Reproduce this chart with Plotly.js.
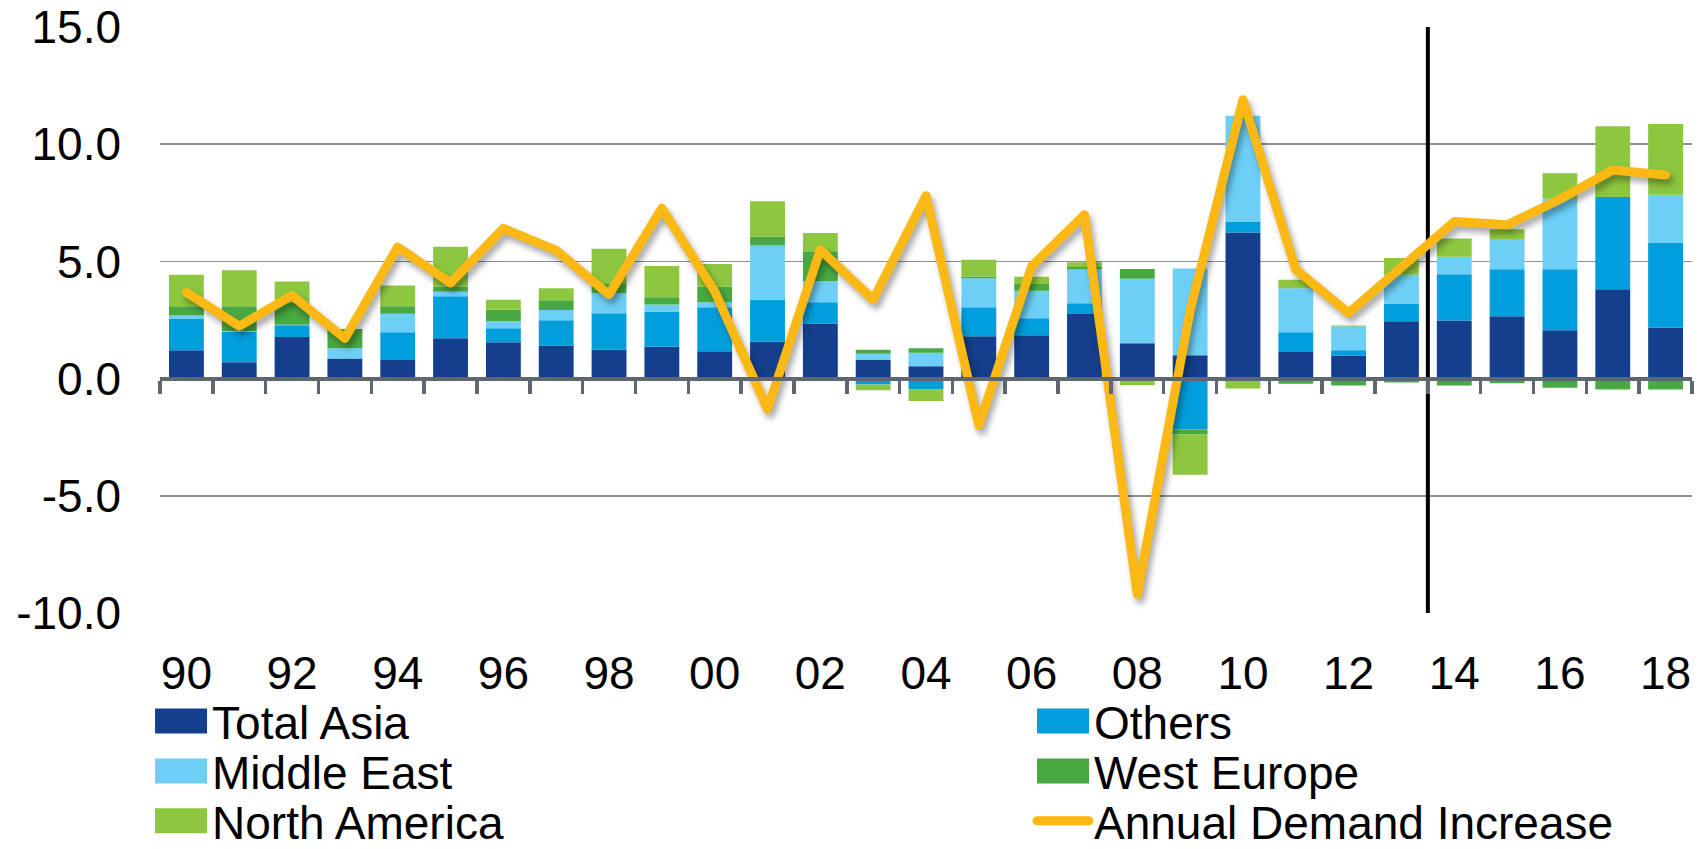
<!DOCTYPE html>
<html>
<head>
<meta charset="utf-8">
<script src="https://cdn.plot.ly/plotly-3.0.1.min.js"></script>
<style>
  html, body { margin: 0; padding: 0; background: #ffffff; }
  #chart { width: 1702px; height: 849px; }
</style>
</head>
<body>
<div id="chart"></div>
<script>
// ---- Data ----
const years = [1990, 1991, 1992, 1993, 1994, 1995, 1996, 1997, 1998, 1999,
               2000, 2001, 2002, 2003, 2004, 2005, 2006, 2007, 2008, 2009,
               2010, 2011, 2012, 2013, 2014, 2015, 2016, 2017, 2018];
const tickLabels = ['90', '', '92', '', '94', '', '96', '', '98', '',
                    '00', '', '02', '', '04', '', '06', '', '08', '',
                    '10', '', '12', '', '14', '', '16', '', '18'];

const totalAsia    = [1.21, 0.70, 1.77, 0.86, 0.79, 1.72, 1.55, 1.41, 1.23, 1.36,
                      1.17, 1.57, 2.35, 0.79, 0.53, 1.81, 1.85, 2.76, 1.51, 1.00,
                      6.23, 1.14, 0.99, 2.45, 2.48, 2.66, 2.06, 3.81, 2.17];
const others       = [1.35, 1.30, 0.51, 0.00, 1.19, 1.79, 0.60, 1.08, 1.56, 1.50,
                      1.87, 1.79, 0.91, -0.25, -0.46, 1.23, 0.72, 0.45, 0.00, -2.17,
                      0.47, 0.84, 0.22, 0.75, 1.97, 2.00, 2.60, 3.94, 3.64];
const middleEast   = [0.13, 0.03, 0.02, 0.43, 0.79, 0.19, 0.31, 0.44, 0.85, 0.30,
                      0.22, 2.32, 0.89, 0.27, 0.57, 1.24, 1.18, 1.44, 2.75, 3.70,
                      4.51, 1.87, 1.02, 1.23, 0.75, 1.26, 3.01, 0.00, 2.03];
const westEurope   = [0.40, 1.06, 0.95, 0.83, 0.32, 0.22, 0.48, 0.41, 0.40, 0.31,
                      0.66, 0.38, 1.28, 0.17, 0.20, 0.08, 0.29, 0.11, 0.42, -0.22,
                      0.00, -0.22, -0.29, -0.17, -0.29, -0.20, -0.39, -0.46, -0.46];
const northAmerica = [1.34, 1.53, 0.89, 0.00, 0.88, 1.71, 0.42, 0.51, 1.50, 1.33,
                      0.97, 1.51, 0.78, -0.25, -0.50, 0.71, 0.31, 0.20, -0.28, -1.71,
                      -0.42, 0.37, 0.04, 0.71, 0.78, 0.45, 1.09, 3.02, 3.02];
const annualDemand = [3.68, 2.24, 3.55, 1.71, 5.61, 4.08, 6.41, 5.47, 3.58, 7.27,
                      3.72, -1.30, 5.50, 3.37, 7.80, -2.00, 4.79, 6.99, -9.20, 2.90,
                      11.90, 4.65, 2.80, 4.75, 6.70, 6.56, 7.65, 8.90, 8.69];

const yTickVals = [-10, -5, 0, 5, 10, 15];
const yTickText = ['-10.0', '-5.0', '0.0', '5.0', '10.0', '15.0'];
const forecastStart = 2013.5;

// ---- Styling ----
const FONT = '"Liberation Sans", Arial, sans-serif';
const AXIS_GREY = '#5E676F';
const xRange = [years[0] - 0.5, years[years.length - 1] + 0.5];
const boundaries = years.map(y => y - 0.5).concat([years[years.length - 1] + 0.5]);

function barTrace(name, values, color, legendId) {
  return {
    type: 'bar', name: name, x: years, y: values,
    marker: { color: color, line: { width: 0 } },
    legend: legendId, hoverinfo: 'skip'
  };
}

const traces = [
  barTrace('Total Asia', totalAsia, '#143F8C', 'legend'),
  barTrace('Others', others, '#009EDB', 'legend2'),
  barTrace('Middle East', middleEast, '#6DCFF6', 'legend3'),
  barTrace('West Europe', westEurope, '#48A942', 'legend4'),
  barTrace('North America', northAmerica, '#8DC63F', 'legend5'),
  {
    type: 'scatter', mode: 'lines', name: 'Annual Demand Increase',
    x: years, y: annualDemand, xaxis: 'x2', yaxis: 'y',
    line: { color: '#FCB814', width: 9 },
    legend: 'legend6', hoverinfo: 'skip'
  }
];

const col1 = -0.0065, col2 = 0.5692;
const row1 = -0.1843, row2 = -0.2696, row3 = -0.3549;
function legendBox(x, y) {
  return {
    x: x, y: y, xanchor: 'left', yanchor: 'middle',
    orientation: 'v', bgcolor: 'rgba(0,0,0,0)', borderwidth: 0,
    itemwidth: 52, tracegroupgap: 0,
    font: { family: FONT, size: 46, color: '#000000' }
  };
}

const layout = {
  width: 1702, height: 849,
  paper_bgcolor: '#ffffff', plot_bgcolor: '#ffffff',
  margin: { l: 160, r: 10, t: 27, b: 236, autoexpand: false },
  barmode: 'relative', bargap: 0.34,
  font: { family: FONT, color: '#000000' },
  showlegend: true,
  xaxis: {
    range: xRange, tickmode: 'array', tickvals: years, ticktext: tickLabels,
    ticks: '', showgrid: false, zeroline: false, showline: false,
    tickfont: { family: FONT, size: 46, color: '#000000' },
    ticklabelstandoff: 29, fixedrange: true
  },
  xaxis2: {
    overlaying: 'x', anchor: 'free', position: 0.4, side: 'bottom',
    range: xRange, tickmode: 'array', tickvals: boundaries,
    ticks: 'outside', ticklen: 13, tickwidth: 3.5, tickcolor: AXIS_GREY,
    showticklabels: false, showline: true, linewidth: 4, linecolor: AXIS_GREY,
    showgrid: false, zeroline: false, fixedrange: true
  },
  yaxis: {
    range: [-10, 15], tickmode: 'array', tickvals: yTickVals, ticktext: yTickText,
    showgrid: true, gridcolor: '#8A9096', gridwidth: 1.5,
    zeroline: false, showline: false, ticks: '',
    tickfont: { family: FONT, size: 46, color: '#000000' },
    ticklabelstandoff: 38, fixedrange: true
  },
  shapes: [{
    type: 'line', xref: 'x', yref: 'y', layer: 'between',
    x0: forecastStart, x1: forecastStart, y0: 15, y1: -10,
    line: { color: '#000000', width: 4 }
  }],
  legend: legendBox(col1, row1),
  legend2: legendBox(col2, row1),
  legend3: legendBox(col1, row2),
  legend4: legendBox(col2, row2),
  legend5: legendBox(col1, row3),
  legend6: legendBox(col2, row3)
};

Plotly.newPlot('chart', traces, layout, { displayModeBar: false, staticPlot: true }).then(function () {
  document.querySelectorAll('.scatterlayer .js-line').forEach(function (p) {
    p.style.strokeLinejoin = 'round';
    p.style.strokeLinecap = 'round';
    p.style.filter = 'drop-shadow(3px 5px 3px rgba(0,0,0,0.35))';
  });
  document.querySelectorAll('.legendlines path').forEach(function (p) {
    p.style.strokeLinecap = 'round';
  });
  document.querySelectorAll('.legendpoints path').forEach(function (p) {
    p.setAttribute('d', 'M26,12.5H-26V-12.5H26Z');
  });
});
</script>
</body>
</html>
